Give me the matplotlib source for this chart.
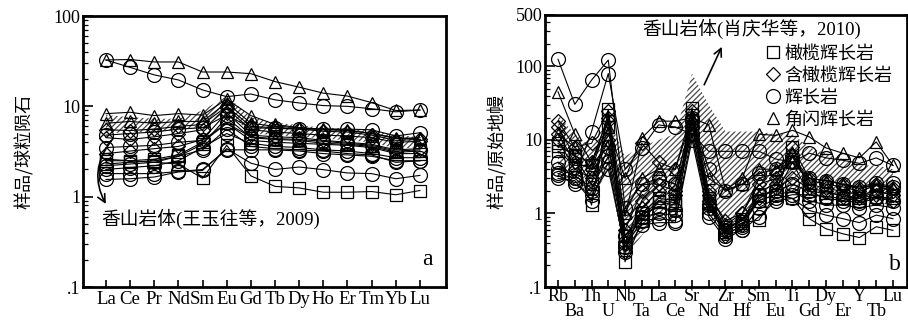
import numpy as np
import matplotlib
matplotlib.use('Agg')
import matplotlib.pyplot as plt
import matplotlib.transforms as mtransforms
from matplotlib.lines import Line2D

# 字体：数字用衬线体，中文用 Noto Sans CJK
SERIF = ['Liberation Serif', 'Noto Sans CJK SC']
CJK = ['Noto Sans CJK SC', 'DejaVu Sans']
plt.rcParams['font.family'] = SERIF
plt.rcParams['hatch.linewidth'] = 0.9

# ---------- 图 a：稀土元素 ----------
ree = ['La', 'Ce', 'Pr', 'Nd', 'Sm', 'Eu', 'Gd', 'Tb', 'Dy', 'Ho', 'Er', 'Tm', 'Yb', 'Lu']

a_squares = [
    [2.6, 2.5, 2.4, 2.3, 1.6, 3.7, 1.7, 1.3, 1.25, 1.12, 1.12, 1.14, 1.05, 1.17],
    [2.5, 2.5, 2.6, 2.9, 4.0, 6.5, 4.2, 4.0, 3.9, 3.8, 3.7, 3.5, 3.0, 3.0],
    [2.3, 2.4, 2.5, 2.8, 3.8, 7.5, 4.5, 4.3, 4.2, 3.9, 3.8, 3.6, 3.1, 3.2],
]
a_diamonds = [
    [4.5, 4.3, 4.6, 5.0, 5.5, 9.5, 5.5, 5.2, 5.0, 4.8, 4.7, 4.5, 4.0, 4.1],
    [3.0, 3.2, 3.4, 3.6, 4.3, 8.5, 4.8, 4.6, 4.5, 4.2, 4.0, 3.8, 3.3, 3.4],
    [5.5, 5.4, 5.6, 6.0, 6.3, 10.0, 6.0, 5.8, 5.6, 5.3, 5.2, 4.8, 4.2, 4.3],
]
a_circles = [
    [32.6, 27, 22.3, 19.6, 15.2, 12.8, 13.7, 11.8, 10.9, 10.2, 10.0, 9.4, 8.7, 9.1],
    [1.55, 1.58, 1.65, 1.88, 1.95, 3.4, 2.35, 2.0, 2.13, 1.99, 1.83, 1.8, 1.58, 1.72],
    [1.8, 1.8, 1.8, 1.9, 2.0, 3.3, 3.3, 3.3, 3.2, 3.0, 2.9, 2.8, 2.5, 2.5],
    [3.5, 3.6, 3.7, 4.0, 4.2, 6.5, 4.6, 4.4, 4.3, 4.1, 3.9, 3.7, 3.2, 3.3],
    [2.0, 2.1, 2.2, 2.5, 3.5, 5.0, 3.9, 3.6, 3.5, 3.3, 3.2, 3.0, 2.7, 2.7],
    [4.8, 5.0, 5.2, 5.6, 5.8, 8.0, 5.8, 5.7, 5.6, 5.6, 5.6, 5.5, 4.7, 5.1],
    [2.2, 2.3, 2.4, 2.8, 3.3, 5.6, 3.6, 3.4, 3.3, 3.2, 3.0, 2.9, 2.4, 2.5],
]
a_triangles = [
    [32.6, 33, 31, 31, 24, 24, 23, 18.8, 16.3, 14, 13, 11, 9, 9.1],
    [8.3, 8.6, 7.9, 8.3, 8.0, 12, 7.9, 6.3, 5.8, 5.6, 5.5, 5.0, 4.5, 4.3],
    [6.5, 6.8, 6.5, 6.8, 6.8, 11, 6.5, 6.0, 5.8, 5.5, 5.4, 5.0, 4.4, 4.5],
]
a_band_hi = [8.0, 7.6, 7.3, 7.3, 9.0, 13, 7.6, 6.6, 6.2, 5.8, 5.7, 5.4, 4.8, 4.6]
a_band_lo = [5.0, 5.2, 5.2, 5.5, 6.0, 9.0, 5.0, 4.8, 4.6, 4.4, 4.2, 4.0, 3.4, 3.5]

# ---------- 图 b：微量元素蛛网图 ----------
trace = ['Rb', 'Ba', 'Th', 'U', 'Nb', 'Ta', 'La', 'Ce', 'Sr', 'Nd', 'Zr',
         'Hf', 'Sm', 'Eu', 'Ti', 'Gd', 'Dy', 'Er', 'Y', 'Tb', 'Lu']

b_squares = [
    [8.3, 6.2, 1.3, 26, 0.22, 0.78, 1.45, 1.3, 27, 1.5, 0.56, 0.75, 0.81, 1.8, 1.6, 0.85, 0.62, 0.53, 0.47, 0.66, 0.59],
    [7, 4.5, 4.5, 22, 0.5, 0.9, 1.5, 1.4, 22, 1.6, 0.65, 0.8, 1.8, 2.0, 8, 2.0, 1.9, 1.8, 1.6, 2.0, 1.8],
    [9, 6, 2.5, 15, 0.35, 1.0, 1.6, 1.5, 18, 1.4, 0.6, 0.85, 1.5, 1.8, 5, 1.8, 1.7, 1.6, 1.5, 1.7, 1.6],
]
b_diamonds = [
    [18, 8, 9, 25, 0.9, 9, 5, 4, 25, 2, 0.7, 1.0, 2.5, 3, 8, 3, 2.8, 2.5, 2.2, 2.5, 2.2],
    [15, 6, 5, 20, 0.6, 2, 3, 2.5, 20, 1.5, 0.6, 0.8, 2, 2.5, 6, 2.5, 2.2, 2, 1.8, 2, 1.8],
    [12, 5, 4, 18, 0.4, 1.5, 2.5, 2.0, 15, 1.8, 0.8, 1.0, 3, 3.5, 5, 2.8, 2.5, 2.3, 2.0, 2.4, 2.0],
    [10, 4, 3, 10, 0.3, 1.2, 2, 1.8, 12, 1.3, 0.5, 0.7, 1.6, 2.2, 3, 2.2, 2, 1.7, 1.6, 1.8, 1.5],
]
b_circles = [
    [125, 30.5, 65, 122, 1.2, 2.5, 3, 2.5, 20, 4, 2, 2.5, 3.5, 4, 6, 3, 2.8, 2.5, 2.3, 2.6, 2.3],
    [3.5, 3, 13, 80, 4, 7.8, 16, 15, 12, 7, 7, 7, 7, 5.5, 5, 6.6, 5.7, 5.3, 4.8, 5.7, 4.5],
    [3, 2.8, 1.5, 5, 0.3, 0.7, 0.75, 0.75, 10, 0.9, 0.45, 0.6, 0.9, 1.5, 1.6, 1.1, 0.95, 0.85, 0.75, 0.95, 0.85],
    [5, 3, 2, 8, 0.5, 1.0, 1.2, 1.1, 15, 1.3, 0.6, 0.7, 1.5, 1.8, 2, 1.5, 1.3, 1.3, 1.2, 1.3, 1.2],
    [4, 3.3, 2.2, 6, 0.4, 0.9, 1.0, 0.95, 18, 1.2, 0.55, 0.65, 1.8, 2.0, 2.5, 2.0, 1.6, 1.5, 1.4, 1.6, 1.5],
    [3.3, 2.5, 1.8, 4, 0.35, 0.8, 0.85, 0.8, 12, 1.0, 0.5, 0.6, 1.2, 1.6, 1.8, 1.8, 1.7, 1.6, 1.5, 1.7, 2.6],
]
b_triangles = [
    [45, 12, 5, 15, 3, 10.6, 18, 18, 20, 16, 2.1, 3, 12, 11.5, 13.5, 11, 7.8, 6.6, 5.7, 9.4, 4.5],
    [12, 8, 4, 10, 1, 3, 4, 4, 20, 3, 2.1, 2.5, 4, 4, 5, 3, 2.8, 2.5, 2.2, 2.5, 2.2],
]
b_band_hi = [22, 12, 8, 20, 6, 8, 10, 12, 80, 30, 13, 13, 13, 12, 12, 8, 6.5, 5.5, 4.5, 4.5, 4]
b_band_lo = [3, 3, 1.5, 4, 0.25, 0.5, 0.9, 1, 10, 1, 0.6, 0.8, 1.5, 2, 2, 2, 1.8, 1.5, 1.3, 1.5, 1.2]

legend_names = ['橄榄辉长岩', '含橄榄辉长岩', '辉长岩', '角闪辉长岩']

fig = plt.figure(figsize=(9.08, 3.21), dpi=100)
ax1 = fig.add_axes([0.0914, 0.1059, 0.3998, 0.8442])
ax2 = fig.add_axes([0.6002, 0.1059, 0.3987, 0.8474])

styles = [('s', 8.5), ('D', 7.5), ('o', 10), ('^', 9)]


def draw(ax, names, groups, hi, lo):
    x = np.arange(len(names))
    ax.fill_between(x, lo, hi, facecolor='white', edgecolor='#4a4a4a',
                    hatch='//////', linewidth=0, zorder=1)
    for (mk, ms), grp in zip(styles, groups):
        for vals in grp:
            ax.plot(x, vals, '-', color='black', lw=0.8, marker=mk, ms=ms,
                    mfc='none', mec='black', mew=0.9, zorder=3)
    ax.set_yscale('log')
    ax.set_xticks(x)
    for s in ax.spines.values():
        s.set_linewidth(2)
    ax.tick_params(axis='both', which='both', direction='in', top=False, right=False)
    ax.tick_params(axis='y', which='major', length=7, width=1.2, labelsize=13, pad=2)
    ax.tick_params(axis='y', which='minor', length=3.5, width=0.9)
    ax.tick_params(axis='x', which='major', length=5, width=1.2, labelsize=13.5, pad=3)


draw(ax1, ree, [a_squares, a_diamonds, a_circles, a_triangles], a_band_hi, a_band_lo)
ax1.set_xlim(-0.95, 14.08)
ax1.set_ylim(0.1, 100)
ax1.set_yticks([0.1, 1, 10, 100])
ax1.set_yticklabels(['.1', '1', '10', '100'])
ax1.set_xticklabels(ree)
ax1.set_ylabel('样品/球粒陨石', family=CJK, fontsize=13, labelpad=14)
ax1.text(13.3, 0.2, 'a', fontsize=17, ha='center', va='center')
ax1.annotate('', xy=(0.05, 0.78), xytext=(0.3, 4.4),
             arrowprops=dict(arrowstyle='->', color='black', lw=1.2,
                             connectionstyle='arc3,rad=0.35', mutation_scale=14))
ax1.text(-0.2, 0.57, '香山岩体(王玉往等，2009)', family=SERIF, fontsize=13.5,
         ha='left', va='center')

draw(ax2, trace, [b_squares, b_diamonds, b_circles, b_triangles], b_band_hi, b_band_lo)
ax2.set_xlim(-0.78, 20.84)
ax2.set_ylim(0.1, 500)
ax2.set_yticks([0.1, 1, 10, 100, 500])
ax2.set_yticklabels(['.1', '1', '10', '100', '500'])
# 两行标签：偶数位在上排，奇数位在下排
ax2.set_xticklabels([t if i % 2 == 0 else '' for i, t in enumerate(trace)])
ax2.tick_params(axis='x', pad=1, labelsize=13)
trans = mtransforms.blended_transform_factory(ax2.transData, ax2.transAxes)
for i, t in enumerate(trace):
    if i % 2 == 1:
        ax2.text(i, -0.12, t, transform=trans, fontsize=13, ha='center', va='bottom')
ax2.set_ylabel('样品/原始地幔', family=CJK, fontsize=13, labelpad=6)
ax2.text(20.1, 0.2, 'b', fontsize=17, ha='center', va='center')
ax2.annotate('', xy=(9.85, 200), xytext=(8.66, 52),
             arrowprops=dict(arrowstyle='->', color='black', lw=1.2, mutation_scale=14))
ax2.text(5.0, 320, '香山岩体(肖庆华等，2010)', family=SERIF, fontsize=13.5,
         ha='left', va='center')

handles = [Line2D([], [], ls='none', marker=mk, ms=ms, mfc='none', mec='black', mew=0.9)
           for mk, ms in styles]
ax2.legend(handles, legend_names, loc='upper right', bbox_to_anchor=(0.985, 0.925),
           frameon=False, prop={'family': CJK, 'size': 13}, handletextpad=0.15,
           handlelength=1.0, labelspacing=0.22, borderaxespad=0.1)

fig.savefig('out.png', dpi=100)
